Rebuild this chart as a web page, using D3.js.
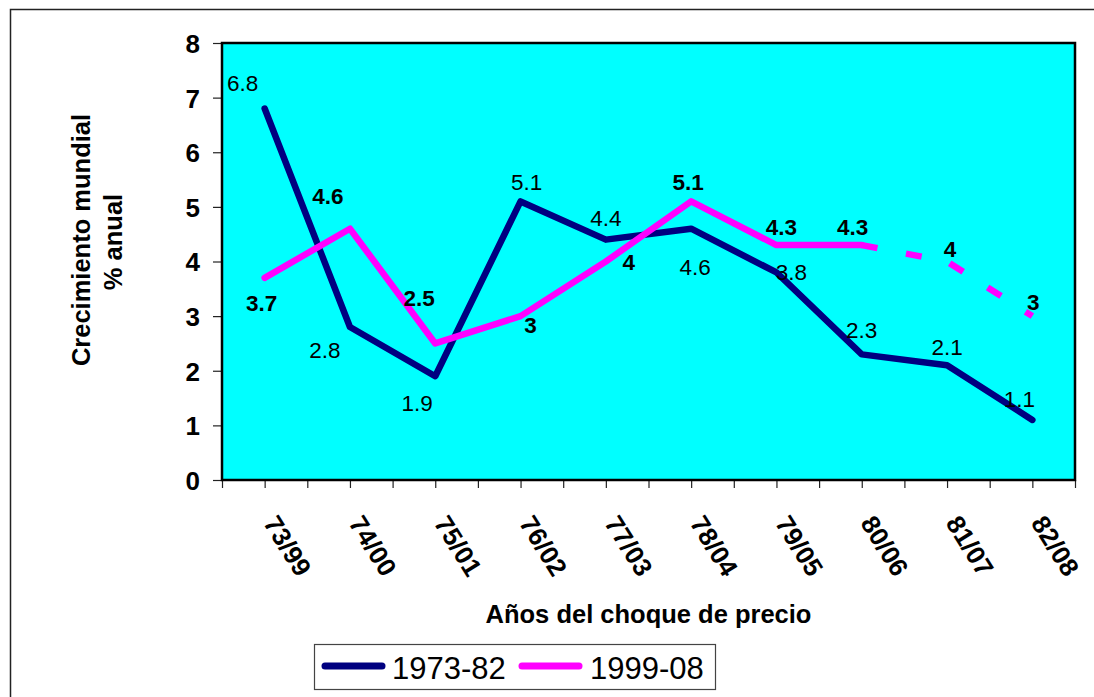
<!DOCTYPE html>
<html>
<head>
<meta charset="utf-8">
<script src="https://cdn.jsdelivr.net/npm/d3@7"></script>
<style>
  html, body { margin: 0; padding: 0; background: #ffffff; }
  svg { display: block; font-family: "Liberation Sans", Arial, sans-serif; }
</style>
</head>
<body>
<svg id="chart" width="1094" height="697"></svg>
<script>
// ---- data ----
const categories = ["73/99", "74/00", "75/01", "76/02", "77/03", "78/04", "79/05", "80/06", "81/07", "82/08"];
const series1973 = [6.8, 2.8, 1.9, 5.1, 4.4, 4.6, 3.8, 2.3, 2.1, 1.1];
const series1999 = [3.7, 4.6, 2.5, 3, 4, 5.1, 4.3, 4.3, 4, 3];
const seriesNames = ["1973-82", "1999-08"];
const yTicks = [0, 1, 2, 3, 4, 5, 6, 7, 8];
const dashedFromIndex = 7; // 1999-08 series is dashed after 80/06 (projection)

// label placement offsets (layout, px) relative to each point: [dx, dy(baseline)]
const labelOffsets1973 = [[-22,-18],[-25,31],[-18,35],[6,-11],[0,-14],[4,46],[15,8],[0,-16],[0,-10],[-13,-13]];
const labelOffsets1999 = [[-3,33],[-22,-25],[-16,-37],[10,17],[23,8],[-3,-11],[5,-10],[-9,-10],[3,-5],[1,-6]];

// ---- layout ----
const W = 1094, H = 697;
const plot = { left: 222, right: 1075, top: 43, bottom: 480 };
const navy = "#000080", magenta = "#FF00FF";
const font = '"Liberation Sans", Arial, sans-serif';

const svg = d3.select("#chart");

// outer chart frame (extends past the bottom/right edges)
svg.append("rect")
  .attr("x", 10.5).attr("y", 9.5)
  .attr("width", W + 20).attr("height", H + 20)
  .attr("fill", "#fff").attr("stroke", "#222").attr("stroke-width", 1.5);

const xPos = d3.scaleLinear().domain([0, categories.length]).range([plot.left, plot.right]);
const x = d3.scaleBand().domain(categories).range([plot.left, plot.right]);
const y = d3.scaleLinear().domain([0, 8]).range([plot.bottom, plot.top]);
const cx = i => x(categories[i]) + x.bandwidth() / 2;

// plot area background
svg.append("rect")
  .attr("x", plot.left).attr("y", plot.top)
  .attr("width", plot.right - plot.left).attr("height", plot.bottom - plot.top)
  .attr("fill", "#00FFFF");

// y axis
const yAxis = svg.append("g")
  .attr("transform", `translate(${plot.left},0)`)
  .call(d3.axisLeft(y).tickValues(yTicks).tickSize(9).tickSizeOuter(0).tickFormat(d3.format("d")));
yAxis.select(".domain").remove();
yAxis.selectAll(".tick line").attr("stroke", "#222").attr("stroke-width", 1.2);
yAxis.selectAll(".tick text")
  .attr("x", -22).attr("dy", "0.36em")
  .style("font-family", font).style("font-size", "26px").style("font-weight", "bold").attr("fill", "#000");

// x axis ticks at category boundaries and centres
const xTickVals = d3.range(0, categories.length + 0.01, 0.5);
const xAxis = svg.append("g")
  .attr("transform", `translate(0,${plot.bottom})`)
  .call(d3.axisBottom(xPos).tickValues(xTickVals).tickSize(8).tickSizeOuter(0).tickFormat(""));
xAxis.select(".domain").remove();
xAxis.selectAll(".tick line").attr("stroke", "#222").attr("stroke-width", 1.2);

// rotated category labels
svg.append("g").selectAll("text")
  .data(categories)
  .join("text")
  .attr("transform", (d, i) => `translate(${cx(i) - 2},523) rotate(58)`)
  .attr("text-anchor", "start")
  .style("font-family", font).style("font-size", "26px").style("font-weight", "bold")
  .text(d => d);

// plot border
svg.append("rect")
  .attr("x", plot.left).attr("y", plot.top)
  .attr("width", plot.right - plot.left).attr("height", plot.bottom - plot.top)
  .attr("fill", "none").attr("stroke", "#000").attr("stroke-width", 2.5);

// lines
const line = d3.line().x(d => cx(d.i)).y(d => y(d.v));
const pts1973 = series1973.map((v, i) => ({ v, i }));
const pts1999 = series1999.map((v, i) => ({ v, i }));

svg.append("path")
  .datum(pts1973)
  .attr("d", line)
  .attr("fill", "none").attr("stroke", navy).attr("stroke-width", 6.5)
  .attr("stroke-linejoin", "round").attr("stroke-linecap", "round");

svg.append("path")
  .datum(pts1999.slice(0, dashedFromIndex + 1))
  .attr("d", line)
  .attr("fill", "none").attr("stroke", magenta).attr("stroke-width", 6.5)
  .attr("stroke-linejoin", "round").attr("stroke-linecap", "round");

svg.append("path")
  .datum(pts1999.slice(dashedFromIndex))
  .attr("d", line)
  .attr("fill", "none").attr("stroke", magenta).attr("stroke-width", 6.5)
  .attr("stroke-dasharray", "16,29").attr("stroke-linecap", "butt")
  .attr("stroke-linejoin", "miter");

// data labels
svg.append("g").selectAll("text")
  .data(pts1973)
  .join("text")
  .attr("x", d => cx(d.i) + labelOffsets1973[d.i][0])
  .attr("y", d => y(d.v) + labelOffsets1973[d.i][1])
  .attr("text-anchor", "middle")
  .style("font-family", font).style("font-size", "22.5px")
  .text(d => d.v);

svg.append("g").selectAll("text")
  .data(pts1999)
  .join("text")
  .attr("x", d => cx(d.i) + labelOffsets1999[d.i][0])
  .attr("y", d => y(d.v) + labelOffsets1999[d.i][1])
  .attr("text-anchor", "middle")
  .style("font-family", font).style("font-size", "22.5px").style("font-weight", "bold")
  .text(d => d.v);

// axis titles
svg.append("text")
  .attr("x", (plot.left + plot.right) / 2).attr("y", 623)
  .attr("text-anchor", "middle")
  .style("font-family", font).style("font-size", "25.5px").style("font-weight", "bold")
  .text("Años del choque de precio");

svg.append("text")
  .attr("transform", "translate(90,240) rotate(-90)")
  .attr("text-anchor", "middle")
  .style("font-family", font).style("font-size", "25.5px").style("font-weight", "bold")
  .text("Crecimiento mundial");
svg.append("text")
  .attr("transform", "translate(122,242) rotate(-90)")
  .attr("text-anchor", "middle")
  .style("font-family", font).style("font-size", "25.5px").style("font-weight", "bold")
  .text("% anual");

// legend
const legend = svg.append("g");
legend.append("rect")
  .attr("x", 314.5).attr("y", 644.5).attr("width", 401).attr("height", 45)
  .attr("fill", "#fff").attr("stroke", "#444").attr("stroke-width", 1.2);
const legendItems = [
  { name: seriesNames[0], color: navy, x0: 322, tx: 392 },
  { name: seriesNames[1], color: magenta, x0: 519, tx: 590 }
];
legendItems.forEach(it => {
  legend.append("line")
    .attr("x1", it.x0 + 3).attr("x2", it.x0 + 60).attr("y1", 666).attr("y2", 666)
    .attr("stroke", it.color).attr("stroke-width", 7).attr("stroke-linecap", "round");
  legend.append("text")
    .attr("x", it.tx).attr("y", 679)
    .style("font-family", font).style("font-size", "31px")
    .text(it.name);
});
</script>
</body>
</html>
